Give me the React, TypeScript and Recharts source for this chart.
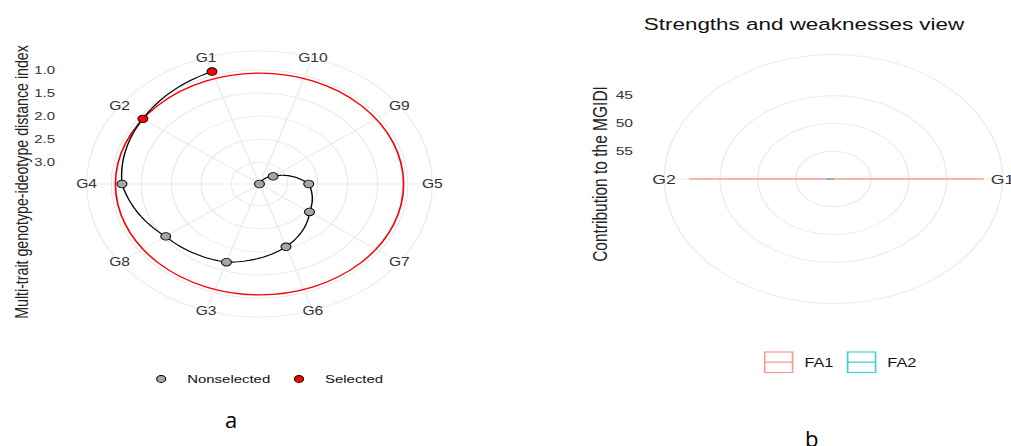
import React from "react";
import {
  RadarChart,
  Radar,
  PolarGrid,
  PolarAngleAxis,
  PolarRadiusAxis,
  Legend,
} from "recharts";

// MGIDI ranking, best genotype first
const genotypes = ["G1", "G2", "G4", "G8", "G3", "G6", "G7", "G5", "G9", "G10"];
const mgidi = [0.91, 1.07, 1.18, 1.54, 1.69, 2.04, 2.44, 2.65, 3.19, 3.47];
const selectedGenotypes = ["G1", "G2"];
const cutoff = 1.07;
const mgidiTicks = [1, 1.5, 2, 2.5, 3];
const statusLabels = ["Nonselected", "Selected"];

// factor contributions to the MGIDI of the selected genotypes
const factorGenotypes = ["G1", "G2"];
const fa1 = [40.1, 40.9];
const fa2 = [59.9, 59.1];
const contributionTicks = [45, 50, 55];
const factorLabels = ["FA1", "FA2"];

const FONT = "'Liberation Sans', Arial, sans-serif";
const GRID = "#ebebeb";
const TEXT = "#333333";
const RAD = Math.PI / 180;
const factorColors = ["#F8766D", "#00BFC4"];

// clockwise from the top-right spoke: worst genotype first, so the ranking
// winds outwards counter-clockwise
const mgidiData = genotypes
  .map((name, i) => ({
    name,
    mgidi: mgidi[i],
    cutoff,
    status: selectedGenotypes.includes(name) ? "Selected" : "Nonselected",
  }))
  .reverse();

const factorData = factorGenotypes.map((name, i) => ({
  name,
  FA1: fa1[i],
  FA2: fa2[i],
}));

// geom_path in polar coordinates: each segment runs linearly in (angle, radius)
function SpiralPath(props: any) {
  const pts = props.points || [];
  if (!pts.length) return null;
  let d = `M${pts[0].x},${pts[0].y}`;
  for (let i = 1; i < pts.length; i++) {
    const q = pts[i - 1];
    const p = pts[i];
    const da = ((((p.angle - q.angle) % 360) + 540) % 360) - 180;
    const steps = 24;
    for (let s = 1; s <= steps; s++) {
      const t = s / steps;
      const a = q.angle + da * t;
      const r = q.radius + (p.radius - q.radius) * t;
      d += `L${p.cx + Math.cos(-a * RAD) * r},${p.cy + Math.sin(-a * RAD) * r}`;
    }
  }
  return (
    <g>
      <path d={d} fill="none" stroke="#000" strokeWidth={1.1} />
      {pts.map((p: any, i: number) => (
        <circle
          key={i}
          cx={p.x}
          cy={p.y}
          r={3.8}
          fill={p.payload.status === "Selected" ? "#ff0000" : "#a6a6a6"}
          stroke="#000"
          strokeWidth={0.8}
        />
      ))}
    </g>
  );
}

function CutoffRing(props: any) {
  const p = props.points && props.points[0];
  if (!p) return null;
  return <circle cx={p.cx} cy={p.cy} r={p.radius} fill="none" stroke="#ff0000" strokeWidth={1.3} />;
}

// plain two-point radar polygon drawn as a single stroke
function FactorLine(props: any) {
  const pts = props.points || [];
  if (!pts.length) return null;
  const d = pts.map((p: any, i: number) => `${i ? "L" : "M"}${p.x},${p.y}`).join("");
  return <path d={d + "Z"} fill="none" stroke={props.stroke} strokeOpacity={0.65} strokeWidth={1.6} />;
}

function AngleTick(size: number) {
  return (p: any) => (
    <text x={p.x} y={p.y} textAnchor="middle" dominantBaseline="central" fontSize={size} fill={TEXT} fontFamily={FONT}>
      {p.payload.value}
    </text>
  );
}

function RadiusTick(x: number, digits: number) {
  return (p: any) => (
    <text x={x} y={p.y} textAnchor="end" dominantBaseline="central" fontSize={11.5} fill={TEXT} fontFamily={FONT}>
      {Number(p.payload.value).toFixed(digits)}
    </text>
  );
}

function StatusLegend() {
  const fills = ["#a6a6a6", "#ff0000"];
  const xs = [0, 106];
  return (
    <svg width={200} height={20}>
      {statusLabels.map((label, i) => (
        <g key={label} transform={`translate(${xs[i]},0)`}>
          <circle cx={5} cy={10} r={3.5} fill={fills[i]} stroke="#000" strokeWidth={0.8} />
          <text x={25} y={10} dominantBaseline="central" fontSize={11.5} fill="#111" fontFamily={FONT}>
            {label}
          </text>
        </g>
      ))}
    </svg>
  );
}

function FactorLegend() {
  const xs = [0, 61];
  return (
    <svg width={140} height={24}>
      {factorLabels.map((label, i) => (
        <g key={label} transform={`translate(${xs[i]},0)`}>
          <rect x={0.8} y={1} width={20.5} height={20.5} fill="#fff" stroke={factorColors[i]} strokeOpacity={0.75} strokeWidth={1.2} />
          <line x1={0.8} x2={21.3} y1={11.2} y2={11.2} stroke={factorColors[i]} strokeOpacity={0.75} strokeWidth={1.2} />
          <text x={30} y={11.5} dominantBaseline="central" fontSize={12} fill="#111" fontFamily={FONT}>
            {label}
          </text>
        </g>
      ))}
    </svg>
  );
}

function MgidiPanel() {
  const w = 380;
  const h = 446;
  return (
    <div style={{ position: "absolute", left: 0, top: 0, width: w, height: h, transform: "scaleX(1.3)", transformOrigin: "0 0" }}>
      <RadarChart width={w} height={h} data={mgidiData} cx={199.6} cy={184} outerRadius={133} startAngle={72} endAngle={-288}>
        <PolarGrid gridType="circle" stroke={GRID} strokeWidth={1} />
        <PolarAngleAxis
          dataKey="name"
          tick={AngleTick(12)}
          tickSize={0.01}
          tickLine={false}
          axisLine={{ stroke: GRID }}
          axisLineType="circle"
        />
        <PolarRadiusAxis
          angle={90}
          domain={[0.59, 3.47]}
          reversed
          ticks={mgidiTicks}
          tick={RadiusTick(42.3, 1)}
          axisLine={false}
          tickLine={false}
        />
        <Radar dataKey="cutoff" shape={CutoffRing} isAnimationActive={false} />
        <Radar dataKey="mgidi" shape={SpiralPath} isAnimationActive={false} />
        <Legend content={StatusLegend} wrapperStyle={{ left: 119, top: 369, width: 200, height: 20 }} />
      </RadarChart>
      <svg style={{ position: "absolute", left: 0, top: 0 }} width={w} height={h}>
        <text transform="rotate(-90)" x={-182} y={21.5} textAnchor="middle" fontSize={14.2} fill="#222" fontFamily={FONT}>
          Multi-trait genotype-ideotype distance index
        </text>
      </svg>
    </div>
  );
}

function FactorPanel() {
  const w = 340;
  const h = 446;
  return (
    <div style={{ position: "absolute", left: 580, top: 0, width: w, height: h, transform: "scaleX(1.36)", transformOrigin: "0 0" }}>
      <RadarChart width={w} height={h} data={factorData} cx={186.3} cy={179} outerRadius={124.4} startAngle={0} endAngle={-360}>
        <PolarGrid gridType="circle" stroke={GRID} strokeWidth={1} />
        <PolarAngleAxis
          dataKey="name"
          tick={AngleTick(13)}
          tickSize={0.01}
          tickLine={false}
          axisLine={{ stroke: GRID }}
          axisLineType="circle"
        />
        <PolarRadiusAxis
          angle={90}
          domain={[37.6, 59.9]}
          reversed
          ticks={contributionTicks}
          tick={RadiusTick(39, 0)}
          axisLine={false}
          tickLine={false}
        />
        <Radar dataKey="FA1" stroke={factorColors[0]} shape={FactorLine} isAnimationActive={false} />
        <Radar dataKey="FA2" stroke={factorColors[1]} shape={FactorLine} isAnimationActive={false} />
        <Legend content={FactorLegend} wrapperStyle={{ left: 135, top: 351, width: 140, height: 24 }} />
      </RadarChart>
      <svg style={{ position: "absolute", left: 0, top: 0 }} width={w} height={h}>
        <text x={164.7} y={30} textAnchor="middle" fontSize={16.5} fill="#111" fontFamily={FONT}>
          Strengths and weaknesses view
        </text>
        <text transform="rotate(-90)" x={-174} y={20} textAnchor="middle" fontSize={15.5} fill="#222" fontFamily={FONT}>
          Contribution to the MGIDI
        </text>
      </svg>
    </div>
  );
}

export default function App() {
  return (
    <div
      style={{
        position: "absolute",
        left: 0,
        top: 0,
        width: 1011,
        height: 446,
        overflow: "hidden",
        background: "#fff",
      }}
    >
      <MgidiPanel />
      <FactorPanel />
      <div style={{ position: "absolute", left: 225, top: 404, fontFamily: "'Open Sans', sans-serif", fontSize: 22, color: "#000" }}>a</div>
      <div style={{ position: "absolute", left: 805, top: 423, fontFamily: "'Open Sans', sans-serif", fontSize: 22, color: "#000" }}>b</div>
    </div>
  );
}
